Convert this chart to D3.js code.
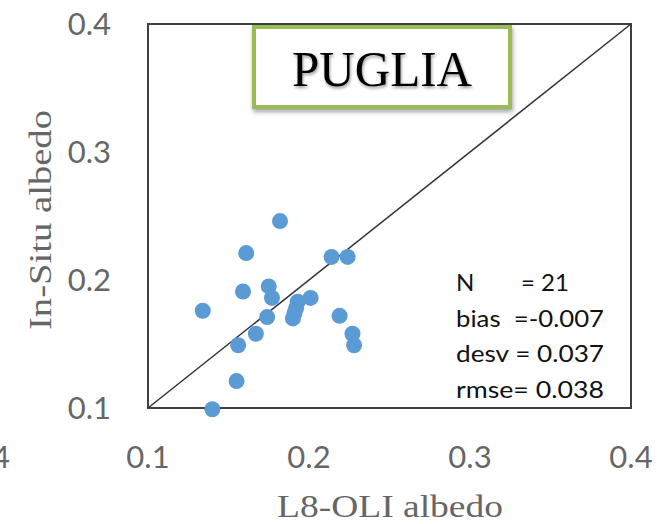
<!DOCTYPE html>
<html>
<head>
<meta charset="utf-8">
<script src="https://cdn.jsdelivr.net/npm/d3@7"></script>
<style>
  body { margin: 0; background: #fff; }
  svg { display: block; }
</style>
</head>
<body>
<svg id="chart" width="661" height="524"></svg>
<script>
// L8-OLI albedo (x) vs In-Situ albedo (y), Puglia sites
var oliAlbedo = [0.182, 0.161, 0.214, 0.224, 0.159, 0.175, 0.177, 0.134, 0.193, 0.201, 0.192,
                 0.191, 0.190, 0.174, 0.219, 0.167, 0.156, 0.227, 0.228, 0.155, 0.140];
var insituAlbedo = [0.246, 0.221, 0.218, 0.218, 0.191, 0.195, 0.186, 0.176, 0.183, 0.186, 0.178,
                    0.174, 0.170, 0.171, 0.172, 0.158, 0.149, 0.158, 0.149, 0.121, 0.099];
var tickValues = [0.1, 0.2, 0.3, 0.4];
var statLines = ["N", "bias  =-0.007", "desv = 0.037", "rmse= 0.038"];
var nValue = "= 21";
var regionName = "PUGLIA";

var svg = d3.select("#chart");
var plotLeft = 148, plotRight = 631, plotTop = 24, plotBottom = 408;

var x = d3.scaleLinear().domain([0.1, 0.4]).range([plotLeft, plotRight]);
var y = d3.scaleLinear().domain([0.1, 0.4]).range([plotBottom, plotTop]);

var points = oliAlbedo.map(function(d, i) { return {x: d, y: insituAlbedo[i]}; });

var defs = svg.append("defs");
var shadow = defs.append("filter").attr("id", "shadow")
	.attr("x", "-20%").attr("y", "-20%").attr("width", "140%").attr("height", "160%");
shadow.append("feDropShadow").attr("dx", 1).attr("dy", 3).attr("stdDeviation", 2)
	.attr("flood-color", "#000").attr("flood-opacity", 0.35);
var tshadow = defs.append("filter").attr("id", "tshadow");
tshadow.append("feDropShadow").attr("dx", 1).attr("dy", 2).attr("stdDeviation", 1.5)
	.attr("flood-color", "#000").attr("flood-opacity", 0.4);

// tick labels
var tickFont = "Lato, 'Open Sans', sans-serif";
svg.append("g").selectAll("text").data(tickValues).enter().append("text")
	.attr("x", 111)
	.attr("y", function(d) { return y(d); })
	.attr("dy", "0.36em")
	.attr("text-anchor", "end")
	.style("font-family", tickFont).style("font-size", "31px").style("fill", "#666")
	.text(function(d) { return d3.format(".1f")(d); });

svg.append("g").selectAll("text").data(tickValues).enter().append("text")
	.attr("x", function(d) { return x(d); })
	.attr("y", 468)
	.attr("text-anchor", "middle")
	.style("font-family", tickFont).style("font-size", "31px").style("fill", "#666")
	.text(function(d) { return d3.format(".1f")(d); });

// leftover label from neighbouring panel
svg.append("text")
	.attr("x", 10).attr("y", 468).attr("text-anchor", "end")
	.style("font-family", tickFont).style("font-size", "31px").style("fill", "#666")
	.text(d3.format(".1f")(0.4));

// axis titles
svg.append("text")
	.attr("x", 390).attr("y", 517).attr("text-anchor", "middle")
	.attr("textLength", 226).attr("lengthAdjust", "spacingAndGlyphs")
	.style("font-family", "'Liberation Serif', 'DejaVu Serif', serif").style("font-size", "31px").style("fill", "#666")
	.text("L8-OLI albedo");

svg.append("text")
	.attr("transform", "translate(51,220) rotate(-90)")
	.attr("text-anchor", "middle")
	.attr("textLength", 220).attr("lengthAdjust", "spacingAndGlyphs")
	.style("font-family", "'Liberation Serif', 'DejaVu Serif', serif").style("font-size", "31px").style("fill", "#666")
	.text("In-Situ albedo");

// plot frame
svg.append("rect")
	.attr("x", x(0.1)).attr("y", y(0.4))
	.attr("width", x(0.4) - x(0.1)).attr("height", y(0.1) - y(0.4))
	.style("fill", "none").style("stroke", "#404040").style("stroke-width", 2);

// 1:1 line
svg.append("line")
	.attr("x1", x(0.1)).attr("y1", y(0.1))
	.attr("x2", x(0.4)).attr("y2", y(0.4))
	.style("stroke", "#333").style("stroke-width", 1.5);

// points
svg.append("g").selectAll("circle").data(points).enter().append("circle")
	.attr("cx", function(d) { return x(d.x); })
	.attr("cy", function(d) { return y(d.y); })
	.attr("r", 8)
	.style("fill", "#5B9BD5");

// region label box
svg.append("rect")
	.attr("x", 254).attr("y", 27).attr("width", 256).attr("height", 80)
	.attr("filter", "url(#shadow)")
	.style("fill", "#fff").style("stroke", "#9BBB59").style("stroke-width", 4);
svg.append("text")
	.attr("x", 382).attr("y", 86).attr("text-anchor", "middle")
	.attr("filter", "url(#tshadow)")
	.attr("textLength", 180).attr("lengthAdjust", "spacingAndGlyphs")
	.style("font-family", "'Liberation Serif', serif").style("font-size", "50px").style("fill", "#000")
	.text(regionName);

// statistics
var stats = svg.append("g")
	.style("font-family", "Lato, 'Open Sans', sans-serif").style("font-size", "24px").style("fill", "#111");
statLines.forEach(function(s, i) {
	var by = 291 + i * 35.5;
	var t = stats.append("text").attr("x", 456).attr("y", by)
		.style("white-space", "pre").text(s);
	if (i > 0) t.attr("textLength", 148).attr("lengthAdjust", "spacingAndGlyphs");
});
stats.append("text").attr("x", 521).attr("y", 291).text(nValue);
</script>
</body>
</html>
